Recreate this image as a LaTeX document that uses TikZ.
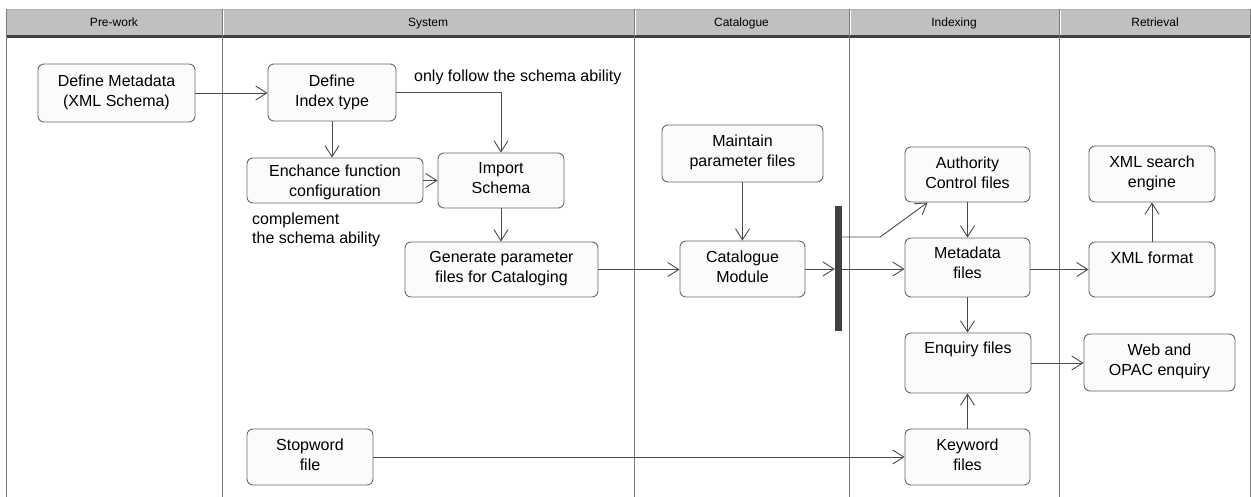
\documentclass[tikz,border=0pt]{standalone}
\usepackage{fontspec}
\setmainfont{Liberation Sans}
\usetikzlibrary{arrows.meta}
\definecolor{lanegray}{HTML}{7A7A7A}
\definecolor{headgray}{HTML}{C0C0C0}
\definecolor{headdark}{HTML}{404040}
\definecolor{boxline}{HTML}{6A6A6A}
\definecolor{boxfill}{HTML}{FBFBFB}
\definecolor{flowgray}{HTML}{4A4A4A}
\tikzset{act box/.style={draw=boxline,fill=boxfill,rounded corners=6pt,inner sep=0pt,line width=0.9pt}}
\tikzset{act label/.style={anchor=north,align=center,inner sep=0pt,font=\fontsize{16}{20}\selectfont}}
\tikzset{note/.style={inner sep=0pt,align=left,font=\fontsize{16}{19}\selectfont}}
\tikzset{lane label/.style={anchor=base,inner sep=0pt,font=\fontsize{12}{14}\selectfont}}
\tikzset{flow/.style={draw=flowgray,line width=0.9pt,->}}

\begin{document}
\begin{tikzpicture}[x=1pt,y=-1pt,>={Straight Barb[length=11pt,width=14pt]}]
          \useasboundingbox (0,0) rectangle (1251,497);
          \fill[white] (0,0) rectangle (1251,497);

          %swimlanes
          \fill[headgray] (6,9) rectangle (1251,35);
          \draw[lanegray!60] (6,9.5) -- (1251,9.5);
          \fill[headdark] (6,35) rectangle (1251,38);
          \foreach \lx in {6.5,222,634,849,1059,1250.5}
            \draw[lanegray] (\lx,9) -- (\lx,497);
          \foreach \lx in {223,635,850,1060}
            \draw[white] (\lx,10) -- (\lx,35);
          \node[lane label] (pre) at (114,26.5) {Pre-work};
          \node[lane label] (sys) at (428,26.5) {System};
          \node[lane label] (cata) at (741.5,26.5) {Catalogue};
          \node[lane label] (indx) at (954,26.5) {Indexing};
          \node[lane label] (retr) at (1155,26.5) {Retrieval};

          %Pre-work
          \node[act box, minimum width=157, minimum height=58] (meta) at (116.5,93) {};
          \node[act label] (meta-t) at ([yshift=-11pt]meta.north) {Define Metadata\\(XML Schema)};

          %System
          \node[act box, minimum width=128, minimum height=57] (idx) at (332,92.5) {};
          \node[act label] (idx-t) at ([yshift=-11pt]idx.north) {Define\\Index type};
          \node[act box, minimum width=176, minimum height=45] (enh) at (335,180.5) {};
          \node[act label] (enh-t) at ([yshift=-7.5pt]enh.north) {Enchance function\\configuration};
          \node[act box, minimum width=126, minimum height=55] (imp) at (501,180.5) {};
          \node[act label] (imp-t) at ([yshift=-9.5pt]imp.north) {Import\\Schema};
          \node[act box, minimum width=193, minimum height=55] (gen) at (501.5,269.5) {};
          \node[act label] (gen-t) at ([yshift=-9.5pt]gen.north) {Generate parameter\\files for Cataloging};
          \node[act box, minimum width=126, minimum height=56] (stop) at (310,457) {};
          \node[act label] (stop-t) at ([yshift=-10.5pt]stop.north) {Stopword\\file};
          \node[note, anchor=base west] (only) at (414,81.5) {only follow the schema ability};
          \node[note, anchor=north west] (compl) at (252,212.5) {complement\\the schema ability};

          %Catalogue
          \node[act box, minimum width=161, minimum height=57] (maint) at (742.5,153.5) {};
          \node[act label] (maint-t) at ([yshift=-10.5pt]maint.north) {Maintain\\parameter files};
          \node[act box, minimum width=125, minimum height=56] (cat) at (742.5,269) {};
          \node[act label] (cat-t) at ([yshift=-10.5pt]cat.north) {Catalogue\\Module};
          \node[fill=headdark, inner sep=0pt, minimum width=7, minimum height=125] (bar) at (838.5,268.5) {};

          %Indexing
          \node[act box, minimum width=125, minimum height=55] (auth) at (967.5,174.5) {};
          \node[act label] (auth-t) at ([yshift=-10.5pt]auth.north) {Authority\\Control files};
          \node[act box, minimum width=125, minimum height=59] (mfile) at (967.5,267.5) {};
          \node[act label] (mfile-t) at ([yshift=-9.5pt]mfile.north) {Metadata\\files};
          \node[act box, minimum width=126, minimum height=60] (enq) at (968,363) {};
          \node[act label] (enq-t) at ([yshift=-9.5pt]enq.north) {Enquiry files};
          \node[act box, minimum width=125, minimum height=56] (kw) at (967.5,457) {};
          \node[act label] (kw-t) at ([yshift=-10.5pt]kw.north) {Keyword\\files};

          %Retrieval
          \node[act box, minimum width=126, minimum height=56] (xsearch) at (1152,174) {};
          \node[act label] (xsearch-t) at ([yshift=-10.5pt]xsearch.north) {XML search\\engine};
          \node[act box, minimum width=126, minimum height=55] (xfmt) at (1152,269.5) {};
          \node[act label] (xfmt-t) at ([yshift=-10.5pt]xfmt.north) {XML format};
          \node[act box, minimum width=151, minimum height=57] (web) at (1159.5,362.5) {};
          \node[act label] (web-t) at ([yshift=-10.5pt]web.north) {Web and\\OPAC enquiry};

          %flows
          \draw[flow] (meta.east) -- (meta.east -| idx.west);
          \draw[flow] (idx.south) -- (idx.south |- enh.north);
          \draw[flow] (idx.east) -| (imp.north);
          \draw[flow] (enh.east) -- (enh.east -| imp.west);
          \draw[flow] (imp.south) -- (imp.south |- gen.north);
          \draw[flow] (gen.east) -- (gen.east -| cat.west);
          \draw[flow] (maint.south) -- (cat.north);
          \draw[flow] (cat.east) -- (cat.east -| bar.west);
          \draw[flow] (cat.east -| bar.east) -- (cat.east -| mfile.west);
          \draw[flow] ([yshift=31.5pt]bar.east) -- ++(38,0) -- ([xshift=23pt]auth.south west);
          \draw[flow] (auth.south) -- (mfile.north);
          \draw[flow] (mfile.south) -- (mfile.south |- enq.north);
          \draw[flow] (xfmt.west -| mfile.east) -- (xfmt.west);
          \draw[flow] (xfmt.north) -- (xsearch.south);
          \draw[flow] (enq.east) -- (enq.east -| web.west);
          \draw[flow] (kw.north) -- (kw.north |- enq.south);
          \draw[flow] (stop.east) -- (stop.east -| kw.west);

        \end{tikzpicture}
\end{document}
